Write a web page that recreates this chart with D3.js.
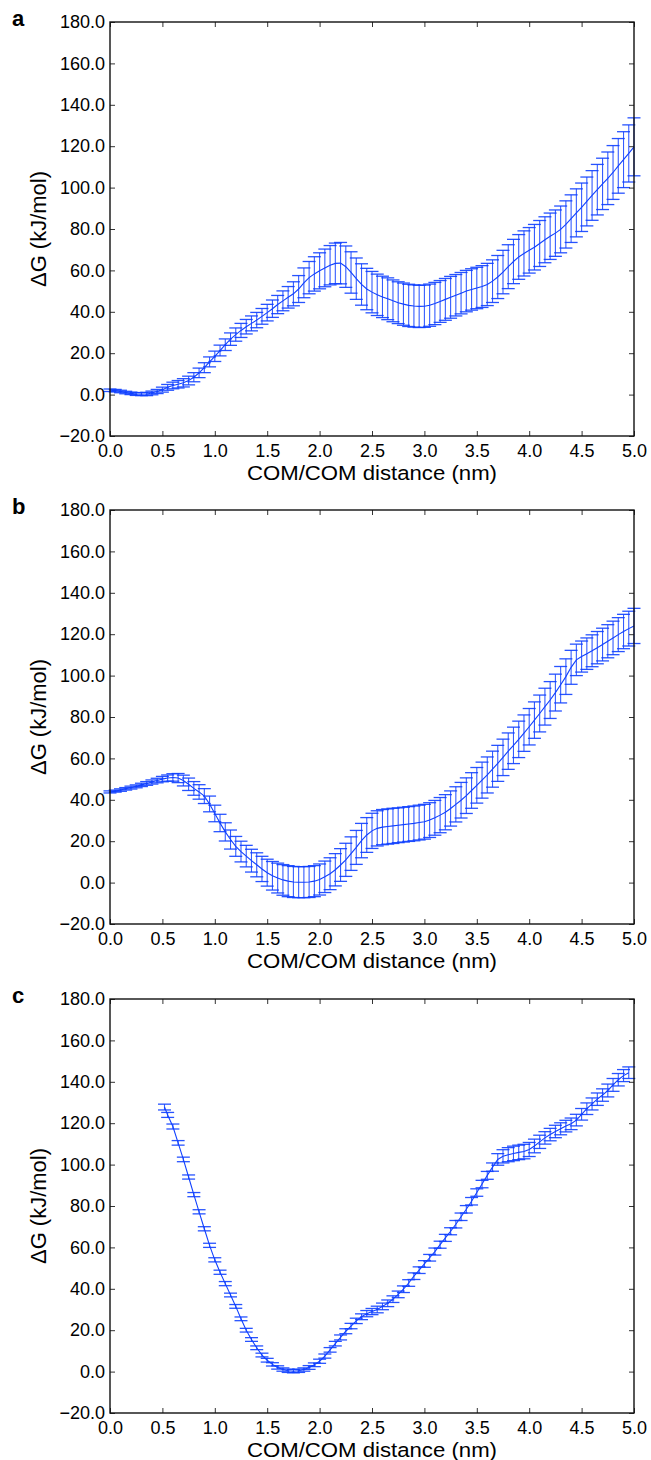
<!doctype html>
<html>
<head>
<meta charset="utf-8">
<script src="https://cdn.jsdelivr.net/npm/d3@7"></script>
<style>
  body { margin: 0; background: #fff; }
  svg { display: block; }
  text { font-family: "Liberation Sans", Arial, Helvetica, sans-serif; }
</style>
</head>
<body>
<svg id="chart" width="651" height="1460"></svg>
<script>
// distance grid (nm) shared by panels a and b
const distAB = [
  0.00, 0.05, 0.10, 0.15, 0.20, 0.25, 0.30, 0.35, 0.40, 0.45, 0.50, 0.55, 0.60, 0.65, 0.70, 0.75, 0.80, 0.85, 0.90, 0.95,
  1.00, 1.05, 1.10, 1.15, 1.20, 1.25, 1.30, 1.35, 1.40, 1.45, 1.50, 1.55, 1.60, 1.65, 1.70, 1.75, 1.80, 1.85, 1.90, 1.95,
  2.00, 2.05, 2.10, 2.15, 2.20, 2.25, 2.30, 2.35, 2.40, 2.45, 2.50, 2.55, 2.60, 2.65, 2.70, 2.75, 2.80, 2.85, 2.90, 2.95,
  3.00, 3.05, 3.10, 3.15, 3.20, 3.25, 3.30, 3.35, 3.40, 3.45, 3.50, 3.55, 3.60, 3.65, 3.70, 3.75, 3.80, 3.85, 3.90, 3.95,
  4.00, 4.05, 4.10, 4.15, 4.20, 4.25, 4.30, 4.35, 4.40, 4.45, 4.50, 4.55, 4.60, 4.65, 4.70, 4.75, 4.80, 4.85, 4.90, 4.95, 5.00
]
const meanA = [
  2.1, 1.9, 1.5, 1.0, 0.6, 0.3, 0.2, 0.3, 0.8, 1.5, 2.4, 3.5, 4.4, 5.0, 5.7, 6.8, 8.4, 10.5, 13.0, 15.8,
  18.5, 21.3, 24.1, 26.8, 29.0, 31.0, 32.8, 34.4, 36.0, 37.8, 39.6, 41.5, 43.5, 45.3, 47.0, 48.7, 51.0, 54.0, 56.5, 58.3,
  59.8, 61.2, 62.5, 63.4, 63.5, 61.8, 59.0, 56.0, 53.2, 51.0, 49.5, 48.2, 47.2, 46.3, 45.3, 44.4, 43.7, 43.1, 42.8, 42.6,
  42.7, 43.2, 44.0, 45.0, 46.0, 47.0, 48.0, 49.0, 50.0, 50.8, 51.5, 52.2, 53.2, 54.8, 56.8, 59.2, 61.8, 64.3, 66.5, 68.2,
  69.7, 71.2, 73.0, 74.8, 76.5, 78.0, 79.8, 82.2, 85.0, 87.8, 90.5, 93.3, 96.2, 99.0, 101.8, 104.5, 107.3, 110.5, 113.5, 116.5, 119.7
]
const errA = [
  0.6, 0.6, 0.6, 0.6, 0.6, 0.7, 0.7, 0.8, 0.9, 1.0, 1.2, 1.4, 1.6, 1.8, 2.0, 2.1, 2.2, 2.3, 2.4, 2.4,
  2.5, 2.6, 2.8, 3.0, 3.2, 3.4, 3.5, 3.6, 3.7, 3.8, 4.0, 4.2, 4.4, 4.8, 5.2, 5.8, 6.5, 7.2, 7.8, 8.3,
  8.7, 9.1, 9.5, 9.8, 10.0, 10.0, 10.0, 10.0, 10.0, 10.0, 10.0, 10.0, 10.0, 10.1, 10.1, 10.1, 10.2, 10.2, 10.2, 10.2,
  10.2, 10.2, 10.2, 10.1, 10.1, 10.1, 10.0, 10.0, 10.0, 10.0, 10.0, 10.1, 10.2, 10.3, 10.4, 10.5, 10.6, 10.7, 10.8, 10.9,
  11.0, 11.0, 11.1, 11.1, 11.2, 11.2, 11.3, 11.4, 11.5, 11.6, 11.7, 11.8, 12.0, 12.2, 12.4, 12.7, 13.0, 13.2, 13.5, 13.8, 14.0
]
const meanB = [
  43.8, 44.2, 44.7, 45.3, 45.9, 46.5, 47.2, 47.9, 48.6, 49.3, 50.0, 50.5, 50.8, 50.5, 49.3, 47.5, 45.5, 43.8, 41.8, 38.0,
  33.4, 28.8, 24.5, 20.8, 17.5, 15.0, 12.8, 10.6, 8.6, 6.6, 4.8, 3.3, 2.2, 1.3, 0.7, 0.3, 0.2, 0.2, 0.3, 0.7,
  1.5, 2.8, 4.3, 6.2, 8.5, 11.0, 14.0, 17.0, 20.3, 23.0, 25.0, 26.2, 26.8, 27.1, 27.4, 27.7, 28.0, 28.3, 28.6, 29.0,
  29.4, 30.2, 31.3, 32.6, 34.0, 35.8, 37.8, 39.8, 42.0, 44.5, 47.0, 49.5, 52.0, 54.8, 57.6, 60.5, 63.5, 66.3, 69.2, 72.2,
  75.3, 78.5, 81.7, 85.0, 88.2, 91.8, 95.6, 99.5, 104.0, 107.6, 109.2, 110.6, 112.0, 113.5, 115.0, 116.6, 118.2, 119.8, 121.3, 122.7, 124.0
]
const errB = [
  0.5, 0.5, 0.6, 0.6, 0.7, 0.7, 0.8, 0.9, 1.0, 1.1, 1.3, 1.5, 1.8, 2.2, 2.6, 3.0, 3.3, 3.5, 3.6, 3.8,
  4.0, 4.2, 4.4, 4.6, 4.8, 5.0, 5.2, 5.5, 5.8, 6.1, 6.5, 6.9, 7.2, 7.4, 7.5, 7.5, 7.5, 7.5, 7.5, 7.5,
  7.5, 7.6, 7.7, 7.8, 7.9, 8.0, 8.1, 8.2, 8.3, 8.4, 8.5, 8.5, 8.5, 8.5, 8.5, 8.4, 8.4, 8.4, 8.4, 8.4,
  8.4, 8.4, 8.4, 8.5, 8.5, 8.5, 8.5, 8.6, 8.6, 8.6, 8.6, 8.7, 8.7, 8.7, 8.7, 8.8, 8.8, 8.8, 8.8, 8.8,
  8.8, 8.8, 8.9, 8.9, 8.9, 8.9, 8.8, 8.6, 8.2, 7.6, 7.5, 7.6, 7.7, 7.8, 7.9, 8.0, 8.1, 8.2, 8.3, 8.4, 8.5
]
// panel c starts later
const distC = [
  0.52, 0.55, 0.60, 0.65, 0.70, 0.75, 0.80, 0.85, 0.90, 0.95,
  1.00, 1.05, 1.10, 1.15, 1.20, 1.25, 1.30, 1.35, 1.40, 1.45, 1.50, 1.55, 1.60, 1.65, 1.70, 1.75, 1.80, 1.85, 1.90, 1.95,
  2.00, 2.05, 2.10, 2.15, 2.20, 2.25, 2.30, 2.35, 2.40, 2.45, 2.50, 2.55, 2.60, 2.65, 2.70, 2.75, 2.80, 2.85, 2.90, 2.95,
  3.00, 3.05, 3.10, 3.15, 3.20, 3.25, 3.30, 3.35, 3.40, 3.45, 3.50, 3.55, 3.60, 3.65, 3.70, 3.75, 3.80, 3.85, 3.90, 3.95,
  4.00, 4.05, 4.10, 4.15, 4.20, 4.25, 4.30, 4.35, 4.40, 4.45, 4.50, 4.55, 4.60, 4.65, 4.70, 4.75, 4.80, 4.85, 4.90, 4.95
]
const meanC = [
  127.8, 124.0, 118.4, 110.5, 102.5, 94.0, 85.5, 77.2, 69.0, 61.0,
  54.0, 48.0, 42.5, 37.0, 31.5, 25.5, 20.0, 15.5, 11.5, 8.0, 5.5, 3.5, 2.0, 1.0, 0.4, 0.2, 0.4, 1.0, 2.0, 3.3,
  5.0, 7.5, 10.5, 13.5, 16.5, 19.5, 22.0, 24.5, 26.5, 28.0, 29.0, 30.0, 31.5, 33.0, 35.0, 37.3, 39.8, 42.8, 46.1, 49.0,
  52.0, 55.0, 58.0, 61.3, 64.6, 67.8, 71.2, 74.8, 78.4, 82.3, 86.5, 90.6, 94.8, 98.8, 102.5, 104.0, 104.8, 105.4, 105.9, 106.3,
  107.3, 109.0, 111.0, 112.9, 114.5, 116.0, 117.3, 118.6, 119.7, 121.5, 124.3, 127.0, 129.3, 131.6, 133.6, 135.8, 138.5, 141.0, 143.0, 144.4
]
const errC = [
  1.4, 1.2, 1.2, 1.1, 1.1, 1.0, 1.0, 1.0, 1.0, 1.0,
  1.0, 1.0, 1.0, 0.9, 0.9, 0.9, 0.9, 0.9, 0.9, 0.9, 0.9, 0.8, 0.8, 0.8, 0.8, 0.8, 0.8, 0.8, 0.9, 0.9,
  1.0, 1.0, 1.1, 1.1, 1.2, 1.2, 1.3, 1.3, 1.4, 1.5, 1.5, 1.6, 1.6, 1.6, 1.6, 1.6, 1.6, 1.6, 1.6, 1.6,
  1.6, 1.6, 1.7, 1.7, 1.7, 1.7, 1.8, 1.8, 1.8, 1.8, 1.8, 1.8, 1.9, 2.0, 2.8, 3.2, 3.4, 3.5, 3.5, 3.5,
  3.4, 3.3, 3.2, 3.0, 3.0, 3.0, 2.9, 2.8, 2.8, 2.8, 2.8, 2.8, 2.9, 3.0, 3.0, 3.1, 3.1, 3.0, 2.9, 2.8
]

const panelLabels = ['a', 'b', 'c']
const xTicks = [0, 0.5, 1, 1.5, 2, 2.5, 3, 3.5, 4, 4.5, 5]
const yTicks = [-20, 0, 20, 40, 60, 80, 100, 120, 140, 160, 180]
const xTitle = 'COM/COM distance (nm)'
const yTitle = 'ΔG (kJ/mol)'

const panels = [
  { label: panelLabels[0], dist: distAB, mean: meanA, err: errA, top: 22 },
  { label: panelLabels[1], dist: distAB, mean: meanB, err: errB, top: 510 },
  { label: panelLabels[2], dist: distC, mean: meanC, err: errC, top: 999 }
]

const left = 110, width = 524, height = 414
const blue = '#1040ff'
const capHalf = 6.5

const svg = d3.select('#chart')
const x = d3.scaleLinear().domain([0, 5]).range([left, left + width])
const fmt = d3.format('.1f')

panels.forEach(p => {
  const y = d3.scaleLinear().domain([-20, 180]).range([p.top + height, p.top])
  const g = svg.append('g')
  const pts = p.dist.map((d, i) => ({ d, m: p.mean[i], e: p.err[i] }))

  // error bars
  const eb = g.append('g').attr('stroke', blue).attr('fill', 'none')
  eb.selectAll('line.v').data(pts).join('line')
    .attr('class', 'v')
    .attr('x1', d => x(d.d)).attr('x2', d => x(d.d))
    .attr('y1', d => y(d.m - d.e)).attr('y2', d => y(d.m + d.e))
    .attr('stroke-width', 1.1).attr('stroke-opacity', 0.85)
  eb.selectAll('line.hi').data(pts).join('line')
    .attr('class', 'hi')
    .attr('x1', d => x(d.d) - capHalf).attr('x2', d => x(d.d) + capHalf)
    .attr('y1', d => y(d.m + d.e)).attr('y2', d => y(d.m + d.e))
    .attr('stroke-width', 1.3).attr('stroke-opacity', 0.9)
  eb.selectAll('line.lo').data(pts).join('line')
    .attr('class', 'lo')
    .attr('x1', d => x(d.d) - capHalf).attr('x2', d => x(d.d) + capHalf)
    .attr('y1', d => y(d.m - d.e)).attr('y2', d => y(d.m - d.e))
    .attr('stroke-width', 1.3).attr('stroke-opacity', 0.9)

  // mean curve
  g.append('path')
    .datum(pts)
    .attr('fill', 'none')
    .attr('stroke', blue)
    .attr('stroke-width', 1.1)
    .attr('d', d3.line().x(d => x(d.d)).y(d => y(d.m)))

  // axes, ticks pointing inward on all four sides
  const axL = g.append('g').attr('transform', `translate(${left},0)`)
    .call(d3.axisLeft(y).tickValues(yTicks).tickSize(-5).tickPadding(5).tickFormat(fmt))
  const axB = g.append('g').attr('transform', `translate(0,${p.top + height})`)
    .call(d3.axisBottom(x).tickValues(xTicks).tickSize(-5).tickPadding(8).tickFormat(fmt))
  const axR = g.append('g').attr('transform', `translate(${left + width},0)`)
    .call(d3.axisRight(y).tickValues(yTicks).tickSize(-5).tickFormat(''))
  const axT = g.append('g').attr('transform', `translate(0,${p.top})`)
    .call(d3.axisTop(x).tickValues(xTicks).tickSize(-5).tickFormat(''))
  ;[axL, axB, axR, axT].forEach(a => {
    a.select('.domain').remove()
    a.selectAll('line').attr('stroke', '#333').attr('stroke-width', 1)
    a.selectAll('text').attr('font-size', 18).attr('fill', '#000')
      .style('font-family', '"Liberation Sans", Arial, sans-serif')
  })

  g.append('rect')
    .attr('x', left).attr('y', p.top)
    .attr('width', width).attr('height', height)
    .attr('fill', 'none').attr('stroke', '#111').attr('stroke-width', 1.4)

  g.append('text')
    .attr('x', left + width / 2).attr('y', p.top + height + 43.5)
    .attr('text-anchor', 'middle').attr('font-size', 20.5)
    .attr('textLength', 250).attr('lengthAdjust', 'spacingAndGlyphs')
    .text(xTitle)

  g.append('text')
    .attr('transform', `translate(46,${p.top + height / 2}) rotate(-90)`)
    .attr('text-anchor', 'middle').attr('font-size', 22)
    .text(yTitle)

  g.append('text')
    .attr('x', 12).attr('y', p.top + 4)
    .attr('font-size', 22).attr('font-weight', 'bold')
    .text(p.label)
})
</script>
</body>
</html>
